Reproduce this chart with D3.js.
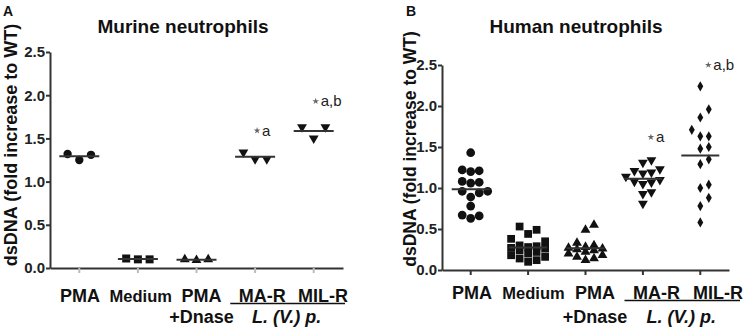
<!DOCTYPE html>
<html>
<head>
<meta charset="utf-8">
<script src="https://cdn.jsdelivr.net/npm/d3@7"></script>
<style>
  body { margin: 0; background: #fff; }
  svg { display: block; font-family: "Liberation Sans", Arial, sans-serif; }
  .axis path, .axis line { stroke: #333; stroke-width: 2px; }
  .axis text { font-size: 15px; font-weight: bold; fill: #222; }
  .title { font-size: 19px; font-weight: bold; fill: #111; }
  .letter { font-size: 14px; font-weight: bold; fill: #111; }
  .ylabel { font-weight: bold; fill: #111; }
  .catlabel { font-size: 18px; font-weight: bold; fill: #111; }
  .catlabel.small { font-size: 16.5px; }
  .mean { stroke: #333; stroke-width: 2px; }
  .note { font-size: 15px; fill: #222; }
</style>
</head>
<body>
<div class="chart"></div>
<script>
const WIDTH = 748;
const HEIGHT = 335;

// groups shown on both panels
var categories = ["PMA", "Medium", "PMA+Dnase", "MA-R", "MIL-R"];
var labelLines = [["PMA"], ["Medium"], ["PMA", "+Dnase"], ["MA-R"], ["MIL-R"]];
var murineSymbols = ["circle", "square", "up", "down", "down"];
var humanSymbols = ["circle", "square", "up", "down", "diamond"];
var yTicks = [0, 0.5, 1.0, 1.5, 2.0, 2.5];

// A - murine neutrophils
var murinePMA = [1.32, 1.25, 1.31];
var murineMedium = [0.11, 0.10, 0.10];
var murinePMADnase = [0.10, 0.09, 0.10];
var murineMAR = [1.34, 1.26, 1.26];
var murineMILR = [1.63, 1.50, 1.63];

// B - human neutrophils
var humanPMA = [1.43, 1.21, 1.20, 1.22, 1.07, 1.08, 1.06, 0.96, 0.94, 0.96, 0.89, 0.78, 0.67, 0.63, 0.66];
var humanMedium = [0.53, 0.49, 0.44, 0.38, 0.35, 0.30, 0.29, 0.28, 0.27, 0.26, 0.24, 0.22, 0.20, 0.18, 0.16, 0.14, 0.12, 0.10];
var humanPMADnase = [0.55, 0.49, 0.33, 0.30, 0.28, 0.27, 0.26, 0.25, 0.24, 0.22, 0.20, 0.18, 0.16, 0.14, 0.12];
var humanMAR = [1.34, 1.31, 1.23, 1.21, 1.19, 1.18, 1.14, 1.10, 1.08, 1.07, 1.05, 0.95, 0.93, 0.81];
var humanMILR = [2.24, 1.96, 1.86, 1.71, 1.63, 1.63, 1.50, 1.48, 1.35, 1.29, 1.04, 1.00, 0.88, 0.78, 0.58];

// significance notes
var noteCats = ["MA-R", "MIL-R"];
var noteTexts = ["a", "a,b"];
var murineNoteY = [1.59, 1.93];
var humanNoteY = [1.62, 2.50];

var _svg = d3.select('.chart').append('svg')
    .attr('width', WIDTH)
    .attr('height', HEIGHT);

_svg.append('rect').attr('width', WIDTH).attr('height', HEIGHT).attr('fill', '#fff');

var translate = function (x, y) {
    return "translate(" + x + "," + y + ")";
};

var symbolTypes = {
    circle: d3.symbolCircle,
    square: d3.symbolSquare,
    up: d3.symbolTriangle,
    down: d3.symbolTriangle,
    diamond: d3.symbolDiamond
};

// simple column scatter: sorted values, each takes the nearest free slot
var swarm = function (values, yScale, step, thresh, maxSlot) {
    var placed = [];
    var order = values.map(function (v, i) { return i; })
        .sort(function (a, b) { return values[a] - values[b]; });
    var out = new Array(values.length);
    order.forEach(function (i) {
        var py = yScale(values[i]);
        var best = null, bestGap = -1;
        for (var k = 0; k <= maxSlot * 2; k++) {
            var slot = k === 0 ? 0 : (k % 2 ? (k + 1) / 2 : -k / 2);
            var gap = d3.min(placed.filter(function (p) { return p.slot === slot; }),
                function (p) { return Math.abs(p.y - py); });
            if (gap === undefined) gap = Infinity;
            if (gap >= thresh) { best = slot; break; }
            if (gap > bestGap) { bestGap = gap; best = slot; }
        }
        placed.push({slot: best, y: py});
        out[i] = best * step;
    });
    return out;
};

var drawPanel = function (p) {
    var xScale = d3.scaleBand().domain(categories).range([p.x0, p.x1]);
    var yScale = d3.scaleLinear().domain([0, 2.5]).range([p.yBottom, p.yTop]);
    var labelScale = d3.scalePoint().domain(categories).range(p.labelRange);
    var cx = function (c) { return xScale(c) + xScale.bandwidth() / 2; };

    var g = _svg.append('g');

    // axes
    g.append('g')
        .attr('class', 'axis')
        .attr('transform', translate(p.x0, 0))
        .call(d3.axisLeft(yScale).tickValues(yTicks).tickFormat(d3.format('.1f'))
            .tickSize(4).tickSizeOuter(0).tickPadding(1));

    var xa = g.append('g')
        .attr('class', 'axis')
        .attr('transform', translate(0, p.yBottom))
        .call(d3.axisBottom(xScale).tickSize(5).tickSizeOuter(0).tickFormat(''));
    xa.selectAll('.tick line').style('stroke', p.xTickColor);

    // points
    p.series.forEach(function (vals, ci) {
        var cat = categories[ci];
        var kind = p.symbols[ci];
        var offs = swarm(vals, yScale, p.step, p.thresh, p.maxSlot);
        var sym = d3.symbol().type(symbolTypes[kind]).size(p.sizes[ci]);
        g.append('g').selectAll('path').data(vals)
            .enter().append('path')
            .attr('d', sym)
            .attr('fill', '#111')
            .attr('transform', function (v, i) {
                var t = translate(cx(cat) + offs[i], yScale(v));
                return kind === 'down' ? t + ' rotate(180)' : t;
            });

        var m = d3.mean(vals);
        g.append('line')
            .attr('class', 'mean')
            .attr('x1', cx(cat) - p.meanW / 2)
            .attr('x2', cx(cat) + p.meanW / 2)
            .attr('y1', yScale(m))
            .attr('y2', yScale(m));
    });

    // significance notes
    noteCats.forEach(function (c, i) {
        var x = cx(c) + p.noteDx;
        var y = yScale(p.noteY[i]);
        g.append('path')
            .attr('d', d3.symbol().type(d3.symbolStar).size(14))
            .attr('fill', '#666')
            .attr('transform', translate(x, y));
        g.append('text')
            .attr('class', 'note')
            .attr('x', x + 5)
            .attr('y', y + 5)
            .text(noteTexts[i]);
    });

    // category labels
    categories.forEach(function (c, i) {
        labelLines[i].forEach(function (line, j) {
            g.append('text')
                .attr('class', 'catlabel' + (c === 'Medium' ? ' small' : ''))
                .attr('text-anchor', 'middle')
                .attr('x', labelScale(c))
                .attr('y', j === 0 ? p.labelY : p.labelY2)
                .text(line);
        });
    });

    var u0 = labelScale('MA-R') - 32;
    var u1 = labelScale('MIL-R') + 22;
    g.append('line')
        .attr('x1', u0).attr('x2', u1)
        .attr('y1', p.labelY + 1.5).attr('y2', p.labelY + 1.5)
        .attr('stroke', '#111').attr('stroke-width', 1.6);
    g.append('text')
        .attr('class', 'catlabel')
        .attr('text-anchor', 'middle')
        .attr('font-style', 'italic')
        .attr('font-size', '16px')
        .attr('x', (u0 + u1) / 2 - 1)
        .attr('y', p.labelY2)
        .text('L. (V.) p.');

    // titles
    g.append('text')
        .attr('class', 'title')
        .attr('text-anchor', 'middle')
        .attr('x', p.titleX)
        .attr('y', 33)
        .text(p.title);
    g.append('text')
        .attr('class', 'letter')
        .attr('x', p.letterX)
        .attr('y', 16)
        .text(p.letter);
    g.append('text')
        .attr('class', 'ylabel')
        .attr('text-anchor', 'middle')
        .attr('font-size', p.yLabelSize + 'px')
        .attr('transform', translate(p.yLabelX, p.yLabelY) + ' rotate(-90)')
        .text('dsDNA (fold increase to WT)');
};

drawPanel({
    x0: 50, x1: 343, yTop: 52, yBottom: 268,
    labelRange: [80, 323], labelY: 302, labelY2: 323,
    series: [murinePMA, murineMedium, murinePMADnase, murineMAR, murineMILR],
    symbols: murineSymbols,
    sizes: [55, 64, 42, 42, 42],
    step: 11.7, thresh: 12, maxSlot: 2, meanW: 40,
    noteY: murineNoteY, noteDx: 2,
    xTickColor: '#bbb',
    title: 'Murine neutrophils', titleX: 183,
    letter: 'A', letterX: 3,
    yLabelX: 17, yLabelY: 145, yLabelSize: 18
});

drawPanel({
    x0: 442, x1: 729, yTop: 65, yBottom: 270,
    labelRange: [472, 718], labelY: 299, labelY2: 323,
    series: [humanPMA, humanMedium, humanPMADnase, humanMAR, humanMILR],
    symbols: humanSymbols,
    sizes: [60, 60, 42, 42, 30],
    step: 8.5, thresh: 9, maxSlot: 2, meanW: 38,
    noteY: humanNoteY, noteDx: 8,
    xTickColor: '#333',
    title: 'Human neutrophils', titleX: 576,
    letter: 'B', letterX: 406,
    yLabelX: 416, yLabelY: 149, yLabelSize: 17.5
});
</script>
</body>
</html>
